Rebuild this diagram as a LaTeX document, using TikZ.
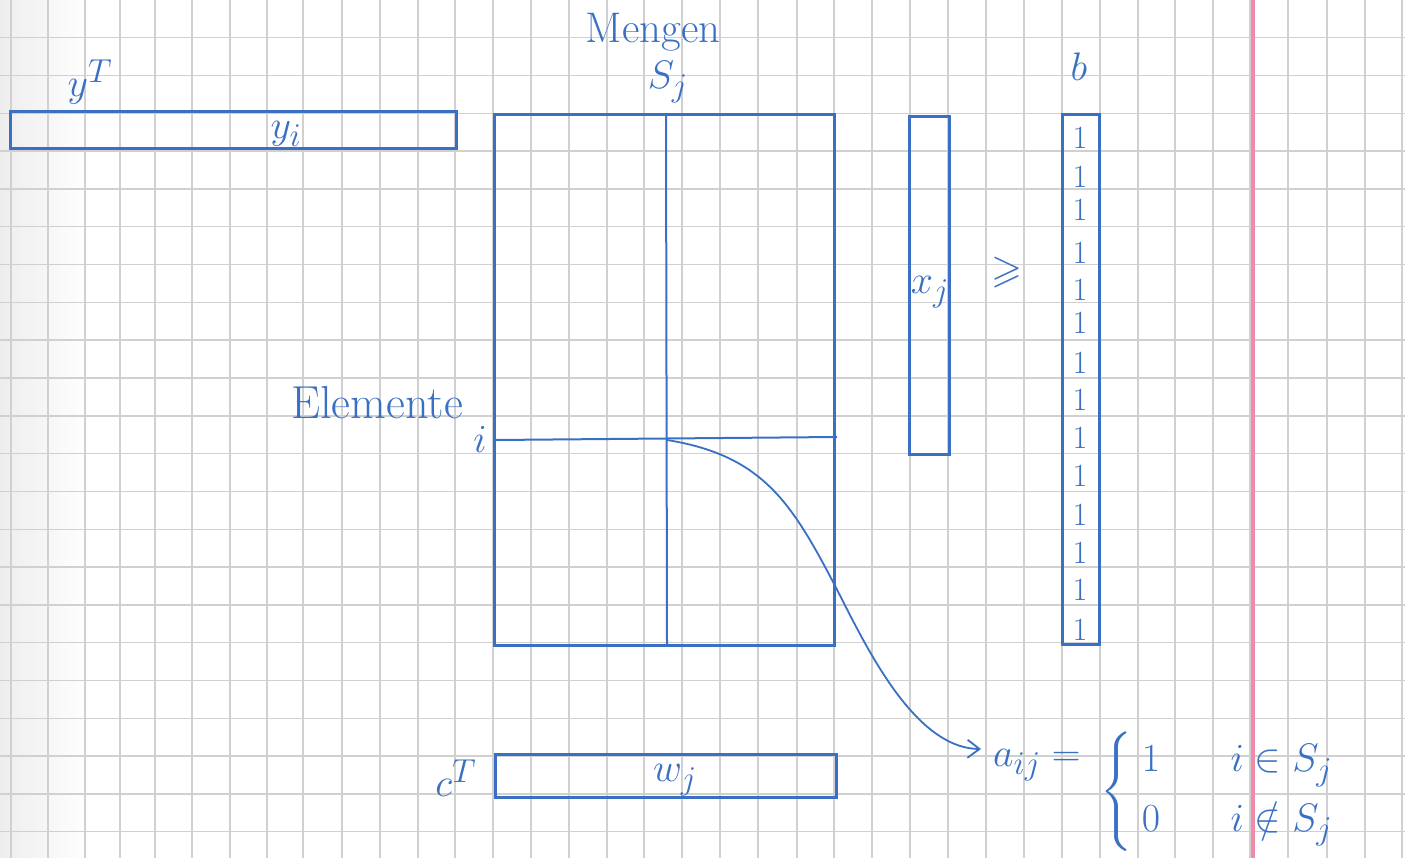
\documentclass[tikz,border=0pt]{standalone}
\usepackage{graphicx}
\usepackage{amssymb}
\usetikzlibrary{arrows.meta}
\definecolor{ink}{RGB}{58,112,196}
\definecolor{gridc}{RGB}{208,208,208}
\definecolor{marginc}{RGB}{240,140,170}
\newcommand{\Hs}[2][1.6]{\scalebox{#1}{#2}}
\begin{document}
\begin{tikzpicture}[x=1pt,y=-1pt,
  box/.style={draw=ink, line width=3pt, inner sep=0pt, rectangle},
  innerline/.style={draw=ink, line width=2pt},
  lbl/.style={text=ink, inner sep=0pt, font=\fontsize{24.88}{30}\selectfont},
  gridline/.style={draw=gridc, line width=1.4pt},
  conn/.style={draw=ink, line width=1.8pt, -{Straight Barb[length=12pt,width=18pt,line width=1.8pt]}},
]
\useasboundingbox (0,0) rectangle (1405,858);
\fill[white] (0,0) rectangle (1405,858);
\shade[left color=black!7, right color=white] (0,0) rectangle (90,858);
% grid paper
\foreach \gx in {11,48,85,120,155,192,230,267,303,342,380,418,455,493,531,569,607,644,682,720,758,797,834,872,910,948,986,1024,1062,1100,1138,1175,1213,1250,1288,1327,1365,1402}
  \draw[gridline] (\gx,0) -- (\gx,858);
\foreach \k in {1,...,22}
  \draw[gridline] (0,37.8*\k) -- (1405,37.8*\k);
\draw[marginc, line width=4pt] (1253,0) -- (1253,858);

% boxes
\node[box, minimum width=446pt, minimum height=37pt] (yT) at (233,130.5) {};
\node[box, minimum width=340pt, minimum height=530pt] (A) at (664,380) {};
\node[box, minimum width=40pt, minimum height=338pt] (xv) at (929.5,285.5) {};
\node[box, minimum width=37pt, minimum height=530pt] (bv) at (1081,379.5) {};
\node[box, minimum width=341pt, minimum height=43pt] (cT) at (665.5,776) {};

% matrix row / column
\coordinate (jt) at (666,115);
\coordinate (jb) at (667,645);
\coordinate (il) at (496,440);
\coordinate (ir) at (837,437);
\coordinate (aijpt) at (667,440);
\draw[innerline] (jt) -- (jb);
\draw[innerline] (il) -- (ir);

% labels
\node[lbl] (yTl) at (90,82) {\Hs{$y^T$}};
\node[lbl] (yil) at (286,134) {\Hs{$y_i$}};
\node[lbl] (mengen) at (653,32) {\Hs[1.72]{Mengen}};
\node[lbl] (Sjl) at (668,82) {\Hs{$S_j$}};
\node[lbl] (elem) at (377,403) {\Hs[1.86]{Elemente}};
\node[lbl] (irow) at (480,439) {\Hs{$i$}};
\node[lbl] (xjl) at (930,292) {\Hs{$x_j$}};
\node[lbl] (geq) at (1007,273) {\Hs{$\geqslant$}};
\node[lbl] (bl) at (1079,67) {\Hs{$b$}};
\foreach \yy [count=\n] in {138,177,210,253,290,323,363,400,438,476,515,553,590,630}
  \node[lbl] (one\n) at (1080,\yy) {\Hs[1.3]{1}};
\node[lbl] (cTl) at (456,778) {\Hs{$c^T$}};
\node[lbl] (wjl) at (675,780) {\Hs{$w_j$}};

% formula
\node[lbl, anchor=west] (aij) at (993,765) {\Hs{$a_{ij} =$}};
\node[lbl, anchor=west] (cases) at (1100,792) {\Hs{$\left\{\begin{array}{@{\hspace{6pt}}l@{\hspace{44pt}}l@{}} 1 & i \in S_j \\[7pt] 0 & i \notin S_j \end{array}\right.$}};

% connector
\draw[conn] (aijpt) .. controls (760,455) and (790,500) .. (832,580)
  .. controls (860,633) and (910,748) .. ([xshift=-12pt,yshift=16pt]aij.west);
\end{tikzpicture}
\end{document}
